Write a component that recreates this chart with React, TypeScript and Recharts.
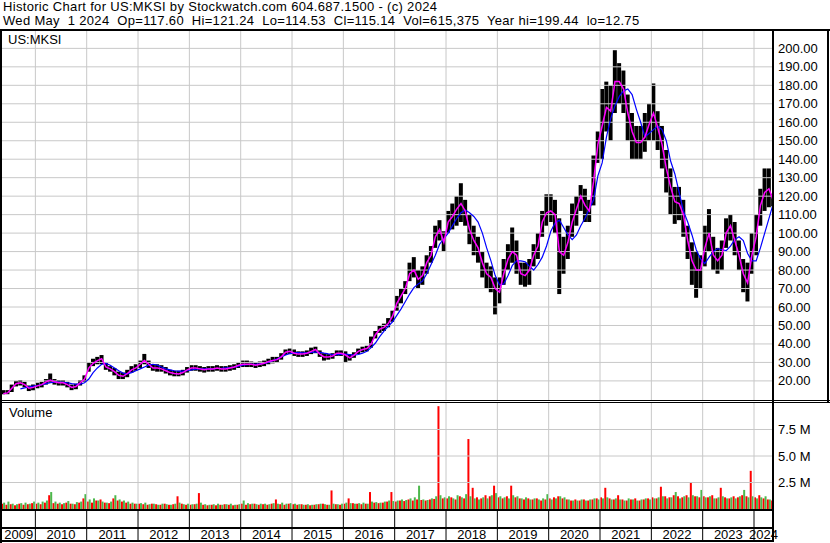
import React from "react";
import {
  ComposedChart,
  Bar,
  Line,
  XAxis,
  YAxis,
  ReferenceLine,
  Scatter,
} from "recharts";

// monthly samples, May 2009 .. May 2024
const hi = [
  15, 15, 18, 20, 20.5, 19.5, 17.5, 18,
  19, 19.5, 21, 24, 21, 20.5, 20.5, 19.5, 18, 18.5, 20.5, 23,
  30, 32, 33, 34, 30, 28, 27, 25, 24.5, 26, 28, 29,
  31, 34.6, 31, 29, 29, 28.5, 27.5, 26, 25.5, 25.5, 26, 27.5,
  28.5, 28.5, 28, 27.5, 28, 28, 28.5, 28, 28, 28.5, 29, 30,
  31, 31, 30.5, 30, 30.5, 31, 32, 33, 33, 35, 37, 37.5,
  37, 36, 36, 36.5, 38, 38.5, 36.5, 35, 34.5, 35, 36.5, 36.5,
  36, 34.5, 35.5, 37.5, 38.5, 39, 44, 47, 50, 51, 54, 58,
  66, 70, 74, 84, 87, 80, 82, 88, 93, 104, 107, 101,
  112, 116, 120, 127, 118, 110, 104, 98, 90, 84, 82, 76,
  76, 86, 94, 103, 96, 84, 84, 86, 94, 100, 112, 121,
  121, 118, 108, 98, 104, 116, 120, 126, 124, 118, 142, 155,
  178, 182, 180, 199, 192, 188, 175, 165, 158, 158, 165, 170,
  181, 166, 158, 145, 135, 125, 125, 118, 104, 95, 90, 88,
  104, 113, 98, 92, 96, 108, 110, 106, 96, 86, 84, 100,
  110, 124, 135, 135, 121.24,
];
const lo = [
  12.75, 12.8, 14, 17, 17.5, 16.5, 14.5, 15,
  16, 16.5, 18, 19, 18, 17.5, 17.5, 16.5, 15, 15.5, 17.5, 19.5,
  25, 28, 29, 29, 26, 25, 23, 21, 21, 22, 24.5, 25.5,
  27, 29, 27, 25.5, 25, 25, 24, 23, 22.5, 22.5, 23, 24.5,
  25.5, 25.5, 25, 24.5, 25, 25, 25.5, 25, 25, 25.5, 26, 27,
  27.5, 27.5, 27.5, 27, 27.5, 28, 29, 29.5, 30, 31.5, 34, 34.5,
  33.5, 33, 33, 33.5, 34.5, 35, 33, 31, 31.5, 32, 33.5, 33.5,
  30, 31, 32.5, 34.5, 35.5, 36, 38, 43, 46, 47, 49, 52,
  58, 62, 67, 74, 76, 70, 72, 78, 84, 92, 96, 90,
  100, 102, 104, 106, 104, 94, 88, 84, 76, 70, 68, 56,
  62, 72, 80, 84, 78, 72, 71, 72, 82, 86, 98, 104,
  106, 100, 67, 78, 86, 98, 104, 112, 106, 106, 115, 138,
  140, 155, 150, 165, 170, 165, 150, 140, 140, 140, 144, 150,
  150, 145, 135, 122, 110, 105, 107, 98, 86, 72, 65, 70,
  82, 90, 80, 78, 80, 92, 96, 88, 80, 68, 63, 78,
  88, 104, 112, 114, 114.53,
];
const maShort = [
  13, 13.5, 16, 18.5, 19, 18, 16, 16.5,
  17.3, 18, 19.5, 20.5, 19.5, 19, 19, 18, 16.5, 17, 19, 21,
  27, 29.5, 31, 32, 27.5, 26.5, 25, 23, 22.5, 24, 26, 27,
  29, 31, 29, 27, 27, 26.5, 25.5, 24.5, 24, 23.8, 24.5, 26,
  27, 27, 26.5, 26, 26.5, 26.5, 27, 26.5, 26.5, 27, 27.5, 28.5,
  29, 29, 29, 28.5, 29, 29.5, 30.5, 31, 31.5, 33, 35.5, 36,
  35, 34.5, 34.6, 35, 36, 37, 34.5, 33, 33, 33.5, 35, 35,
  34, 32.5, 34, 36, 37, 37.5, 40, 45, 48, 49, 51, 55,
  62, 66, 70, 78, 80, 75, 77, 84, 88, 98, 102, 95,
  106, 109, 113, 116, 112, 102, 96, 92, 84, 78, 76, 70,
  68, 78, 86, 90, 88, 78, 77, 80, 88, 93, 106, 111,
  112, 110, 90, 88, 95, 106, 113, 120, 115, 112, 128, 148,
  158, 168, 166, 182, 182, 178, 165, 155, 149, 149, 152, 159,
  165, 157, 148, 135, 125, 117, 116, 110, 96, 85, 80, 80,
  92, 100, 88, 85, 88, 100, 104, 96, 88, 78, 73, 88,
  98, 115, 122, 124, 117.6,
];
const maLong = [
  null, null, null, null, 15.7, 16.2, 16.8, 17.2,
  17.5, 18, 18.5, 19, 19.3, 19.3, 19.2, 19, 18.5, 18.2, 18.3, 19,
  21, 24.5, 27, 29, 29.5, 28.5, 27, 25.5, 24.2, 23.8, 24.5, 25.5,
  26.5, 27.5, 28.5, 29, 28.5, 27.5, 26.5, 26, 25.5, 25.3, 25.3, 25.5,
  26, 26.3, 26.5, 26.5, 26.5, 26.5, 26.7, 26.8, 27, 27.2, 27.5, 28,
  28.5, 28.8, 29, 29, 29.2, 29.5, 30, 31, 32, 33, 34, 34.8,
  35.2, 35.3, 35.2, 35.2, 35.4, 35.6, 35.5, 35, 34.6, 34.3, 34.2, 34.4,
  34.5, 34.2, 34, 34.3, 35, 36, 38, 40.5, 44, 47, 49.5, 52,
  55.5, 59, 63, 67, 70.5, 72.5, 74, 78, 83, 88, 94, 97,
  100, 104, 108, 111, 112.5, 111, 109, 106, 100, 92, 85, 77,
  72, 72.5, 77, 82.5, 85, 85, 84.5, 82, 80, 83, 87, 93,
  101, 105.5, 107, 103, 99, 96.5, 99, 104, 108, 113, 118, 131,
  138, 152, 162, 169, 174, 177, 178, 175, 167, 160, 152, 154,
  156, 158, 156, 150, 139, 132, 122, 112, 106, 99, 91, 86,
  83.5, 87, 90, 91.6, 91, 90.5, 93, 96.5, 98, 96, 89, 85,
  85, 92, 100, 108, 116,
];
// volume in millions, down days / up days
const volDown = [
  0.5, 0.4, 0.45, 0.35, 0.5, 0.4, 0.45, 0.55,
  0.5, 0.45, 0.6, 1.3, 0.55, 0.5, 0.45, 0.6, 0.5, 0.45, 0.6, 1.0,
  0.7, 0.6, 0.8, 0.9, 0.6, 0.55, 1.0, 0.8, 0.7, 0.6, 0.5, 0.5,
  0.5, 0.45, 0.4, 0.5, 0.45, 0.4, 0.5, 0.4, 0.45, 1.2, 0.5, 0.4,
  0.4, 0.45, 1.5, 0.4, 0.35, 0.4, 0.35, 0.4, 0.45, 0.4, 0.35, 0.4,
  0.5, 0.4, 0.45, 0.5, 0.4, 0.45, 0.4, 0.5, 0.9, 0.45, 0.4, 0.5,
  0.45, 0.4, 0.45, 0.4, 0.35, 0.4, 0.45, 0.5, 0.4, 1.75, 0.45, 0.4,
  0.5, 1.0, 0.55, 0.5, 0.45, 0.5, 1.6, 0.6, 0.55, 0.6, 0.7, 1.6,
  0.7, 0.8, 0.75, 0.9, 0.8, 0.9, 0.85, 0.8, 0.9, 0.95, 9.7, 1.0,
  1.0, 1.1, 0.9, 1.2, 1.0, 6.6, 2.0, 1.1, 1.0, 1.3, 1.2, 2.2,
  1.1, 1.0, 1.2, 2.2, 1.1, 1.0, 0.9, 1.0, 0.9, 1.0, 0.8, 0.9,
  1.0, 1.1, 1.2, 1.0, 0.9, 0.8, 0.9, 0.8, 0.9, 0.8, 0.9, 1.0,
  1.1, 2.0, 1.0, 0.9, 1.3, 0.9, 0.8, 0.9, 1.0, 0.8, 0.9, 1.0,
  1.1, 1.0, 2.1, 1.2, 1.1, 1.3, 1.2, 1.1, 1.3, 2.5, 1.2, 1.1,
  1.2, 1.1, 1.3, 1.0, 2.0, 1.1, 1.0, 1.2, 1.1, 1.3, 1.2, 3.6,
  1.1, 1.3, 1.0, 0.9, 0.8,
];
const volUp = [
  0.6, 0.7, 0.5, 0.45, 0.55, 0.6, 0.5, 0.7,
  0.6, 0.7, 0.8, 1.6, 0.7, 0.6, 0.55, 0.75, 0.5, 0.65, 0.7, 1.4,
  0.9, 1.0, 0.8, 0.7, 0.6, 0.7, 1.3, 0.9, 0.8, 0.7, 0.6, 0.5,
  0.55, 0.6, 0.45, 0.5, 0.4, 0.5, 0.45, 0.4, 0.5, 0.6, 0.45, 0.5,
  0.45, 0.5, 0.6, 0.45, 0.4, 0.45, 0.5, 0.4, 0.45, 0.5, 0.4, 0.45,
  0.8, 0.55, 0.5, 0.45, 0.5, 0.5, 0.45, 0.55, 0.5, 0.6, 0.5, 0.55,
  0.5, 0.45, 0.4, 0.45, 0.4, 0.45, 0.5, 0.45, 0.4, 0.5, 0.45, 0.5,
  0.6, 0.55, 0.5, 0.55, 0.6, 0.5, 0.7, 0.65, 0.6, 0.7, 0.8, 0.75,
  0.8, 0.9, 0.85, 1.0, 1.1, 2.2, 0.9, 0.85, 1.0, 1.2, 1.3, 1.1,
  1.2, 1.0, 1.3, 1.1, 1.4, 1.2, 1.0, 0.9, 1.1, 1.0, 1.3, 1.5,
  1.2, 1.1, 1.0, 1.3, 1.2, 1.0, 1.1, 0.9, 1.0, 0.9, 1.0, 1.4,
  0.9, 1.0, 1.2, 1.1, 0.9, 0.8, 0.8, 0.9, 0.8, 0.9, 1.0, 0.9,
  1.0, 1.1, 0.9, 1.0, 0.9, 0.8, 1.0, 0.9, 0.8, 0.9, 1.0, 0.9,
  1.0, 1.1, 1.2, 1.0, 1.1, 1.6, 1.0, 1.2, 1.1, 1.3, 1.2, 1.8,
  1.1, 1.2, 1.0, 1.1, 1.2, 1.0, 1.1, 1.0, 1.2, 1.8, 1.1, 1.2,
  1.0, 1.1, 1.2, 0.9, 0.7,
];

const priceTicks = [20, 30, 40, 50, 60, 70, 80, 90, 100, 110, 120, 130, 140, 150, 160, 170, 180, 190, 200];
const volTicks = [2.5, 5, 7.5];
const yearTicks = [2010, 2011, 2012, 2013, 2014, 2015, 2016, 2017, 2018, 2019, 2020, 2021, 2022, 2023, 2024];
const yearLabels = ["2009", "2010", "2011", "2012", "2013", "2014", "2015", "2016", "2017", "2018", "2019", "2020", "2021", "2022", "2023", "2024"];

const xDomain: [number, number] = [2009.35, 2024.37];

const rows = hi.map((h, i) => ({
  t: 2009 + (4 + i) / 12 + 1 / 24,
  range: [lo[i], h],
  maS: maShort[i],
  maL: maLong[i],
  dn: volDown[i],
  up: volUp[i],
}));

const labelRows = yearLabels.map((label, i) => {
  const a = i === 0 ? xDomain[0] : yearTicks[i - 1];
  const b = i === yearLabels.length - 1 ? xDomain[1] : yearTicks[i];
  return { t: (a + b) / 2, v: 7, label };
});

const FONT = '"Liberation Sans", Arial, sans-serif';
const GRID = "#c8c8c8";

const AxisTick = ({ x, y, payload, fmt }: any) => (
  <text x={x} y={y} dy={4.5} fontSize={13} fontFamily={FONT} fill="#000" textAnchor="start">
    {fmt(payload.value)}
  </text>
);

const YearLabel = ({ cx, cy, payload }: any) => (
  <text x={cx} y={cy} dy={4.5} fontSize={13} fontFamily={FONT} fill="#000" textAnchor="middle">
    {payload.label}
  </text>
);

const line = (left: number, top: number, width: number, height: number) => (
  <div style={{ position: "absolute", left, top, width, height, background: "#000" }} />
);

export default function App() {
  return (
    <div
      style={{
        position: "fixed",
        left: 0,
        top: 0,
        width: 830,
        height: 543,
        background: "#fff",
        fontFamily: FONT,
        overflow: "hidden",
      }}
    >
      <div
        style={{
          position: "absolute",
          left: 3,
          top: 0,
          fontSize: 13,
          lineHeight: "14px",
          letterSpacing: "0.32px",
          whiteSpace: "pre",
          color: "#000",
        }}
      >
        {"Historic Chart for US:MKSI by Stockwatch.com 604.687.1500 - (c) 2024"}
        <br />
        {"Wed May  1 2024  Op=117.60  Hi=121.24  Lo=114.53  Cl=115.14  Vol=615,375  Year hi=199.44  lo=12.75"}
      </div>

      <div style={{ position: "absolute", left: 2, top: 31 }}>
        <ComposedChart width={826} height={369} data={rows} margin={{ top: 0, right: 0, bottom: 0, left: 0 }}>
          <XAxis dataKey="t" type="number" domain={xDomain} ticks={yearTicks} hide allowDataOverflow />
          <YAxis
            orientation="right"
            width={55}
            domain={[9.66, 209.4]}
            ticks={priceTicks}
            interval={0}
            axisLine={false}
            tickLine={false}
            tickSize={0}
            tickMargin={5}
            allowDataOverflow
            tick={<AxisTick fmt={(v: number) => v.toFixed(2)} />}
          />
          {priceTicks.map((p) => (
            <ReferenceLine key={`p${p}`} y={p} stroke={GRID} />
          ))}
          {yearTicks.map((y) => (
            <ReferenceLine key={`y${y}`} x={y} stroke={GRID} />
          ))}
          <Bar dataKey="range" fill="#000" barSize={4} isAnimationActive={false} />
          <Line dataKey="maL" stroke="#0000ff" strokeWidth={1.2} dot={false} type="linear" isAnimationActive={false} />
          <Line dataKey="maS" stroke="#ff00ff" strokeWidth={1.5} dot={false} type="linear" isAnimationActive={false} />
        </ComposedChart>
      </div>

      <div style={{ position: "absolute", left: 2, top: 403 }}>
        <ComposedChart width={826} height={106} data={rows} barGap={0} margin={{ top: 0, right: 0, bottom: 0, left: 0 }}>
          <XAxis dataKey="t" type="number" domain={xDomain} ticks={yearTicks} hide allowDataOverflow />
          <YAxis
            orientation="right"
            width={55}
            domain={[0, 10]}
            ticks={volTicks}
            interval={0}
            axisLine={false}
            tickLine={false}
            tickSize={0}
            tickMargin={5}
            allowDataOverflow
            tick={<AxisTick fmt={(v: number) => `${v.toFixed(1)} M`} />}
          />
          {volTicks.map((v) => (
            <ReferenceLine key={`v${v}`} y={v} stroke={GRID} />
          ))}
          {yearTicks.map((y) => (
            <ReferenceLine key={`y${y}`} x={y} stroke={GRID} />
          ))}
          <Bar dataKey="dn" fill="#ff0000" barSize={2} isAnimationActive={false} />
          <Bar dataKey="up" fill="#4cb84c" barSize={2} isAnimationActive={false} />
        </ComposedChart>
      </div>

      <div style={{ position: "absolute", left: 2, top: 509 }}>
        <ComposedChart width={826} height={32} data={labelRows} margin={{ top: 0, right: 55, bottom: 0, left: 0 }}>
          <XAxis dataKey="t" type="number" domain={xDomain} hide />
          <YAxis dataKey="v" type="number" domain={[0, 32]} hide />
          {yearTicks.map((y) => (
            <ReferenceLine key={y} x={y} stroke="#000" strokeWidth={1} />
          ))}
          <Scatter data={labelRows} dataKey="v" shape={<YearLabel />} isAnimationActive={false} />
        </ComposedChart>
      </div>

      <div style={{ position: "absolute", left: 8, top: 32, fontSize: 13, color: "#000" }}>US:MKSI</div>
      <div style={{ position: "absolute", left: 9, top: 405, fontSize: 13, color: "#000" }}>Volume</div>

      {line(0, 29, 830, 2)}
      {line(0, 29, 2, 514)}
      {line(772, 29, 2, 513)}
      {line(827, 29, 2, 374)}
      {line(0, 400, 830, 1)}
      {line(0, 402, 830, 1)}
      {line(0, 509, 774, 2)}
      {line(0, 527, 774, 2)}
      {line(0, 540, 774, 2)}
    </div>
  );
}
